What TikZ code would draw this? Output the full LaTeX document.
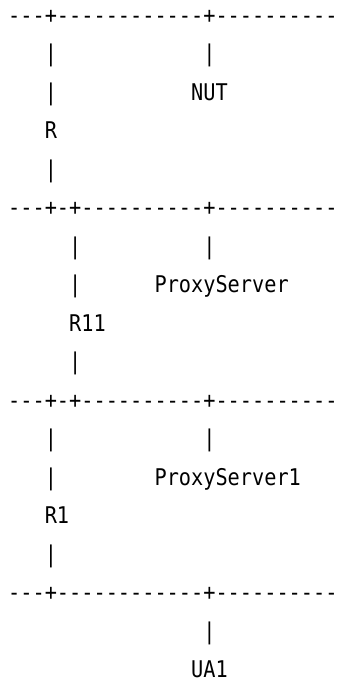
\documentclass[tikz,border=0pt]{standalone}
\usepackage{fontspec}
\setmonofont{DejaVu Sans Mono}[FakeStretch=0.881]
\usepackage{tikz}

\tikzset{ascii/.style={font=\ttfamily\fontsize{23}{23}\selectfont, inner sep=0pt, anchor=base west}}

\begin{document}
\begin{tikzpicture}[x=12.2pt, y=-38.5pt]
                    \useasboundingbox (-0.656,-0.39) rectangle (27.13,17.38);
                    \node[ascii] at (0,0.22) (busNUT) {---+------------+----------};
                    \node[ascii] at (3,1.22) (Ra) {|};
                    \node[ascii] at (16,1.22) (NUTa) {|};
                    \node[ascii] at (3,2.22) (Rb) {|};
                    \node[ascii] at (15,2.22) (NUT) {NUT};
                    \node[ascii] at (3,3.22) (R) {R};
                    \node[ascii] at (3,4.22) (Rc) {|};

                    \node[ascii] at (0,5.22) (busPS) {---+-+----------+----------};
                    \node[ascii] at (5,6.22) (R11a) {|};
                    \node[ascii] at (16,6.22) (PSa) {|};
                    \node[ascii] at (5,7.22) (R11b) {|};
                    \node[ascii] at (12,7.22) (PS) {ProxyServer};
                    \node[ascii] at (5,8.22) (R11) {R11};
                    \node[ascii] at (5,9.22) (R11c) {|};

                    \node[ascii] at (0,10.22) (busPSone) {---+-+----------+----------};
                    \node[ascii] at (3,11.22) (R1a) {|};
                    \node[ascii] at (16,11.22) (PSonea) {|};
                    \node[ascii] at (3,12.22) (R1b) {|};
                    \node[ascii] at (12,12.22) (PSone) {ProxyServer1};
                    \node[ascii] at (3,13.22) (R1) {R1};
                    \node[ascii] at (3,14.22) (R1c) {|};

                    \node[ascii] at (0,15.22) (busUA) {---+------------+----------};
                    \node[ascii] at (16,16.22) (UAa) {|};
                    \node[ascii] at (15,17.22) (UA) {UA1};
                \end{tikzpicture}
\end{document}
